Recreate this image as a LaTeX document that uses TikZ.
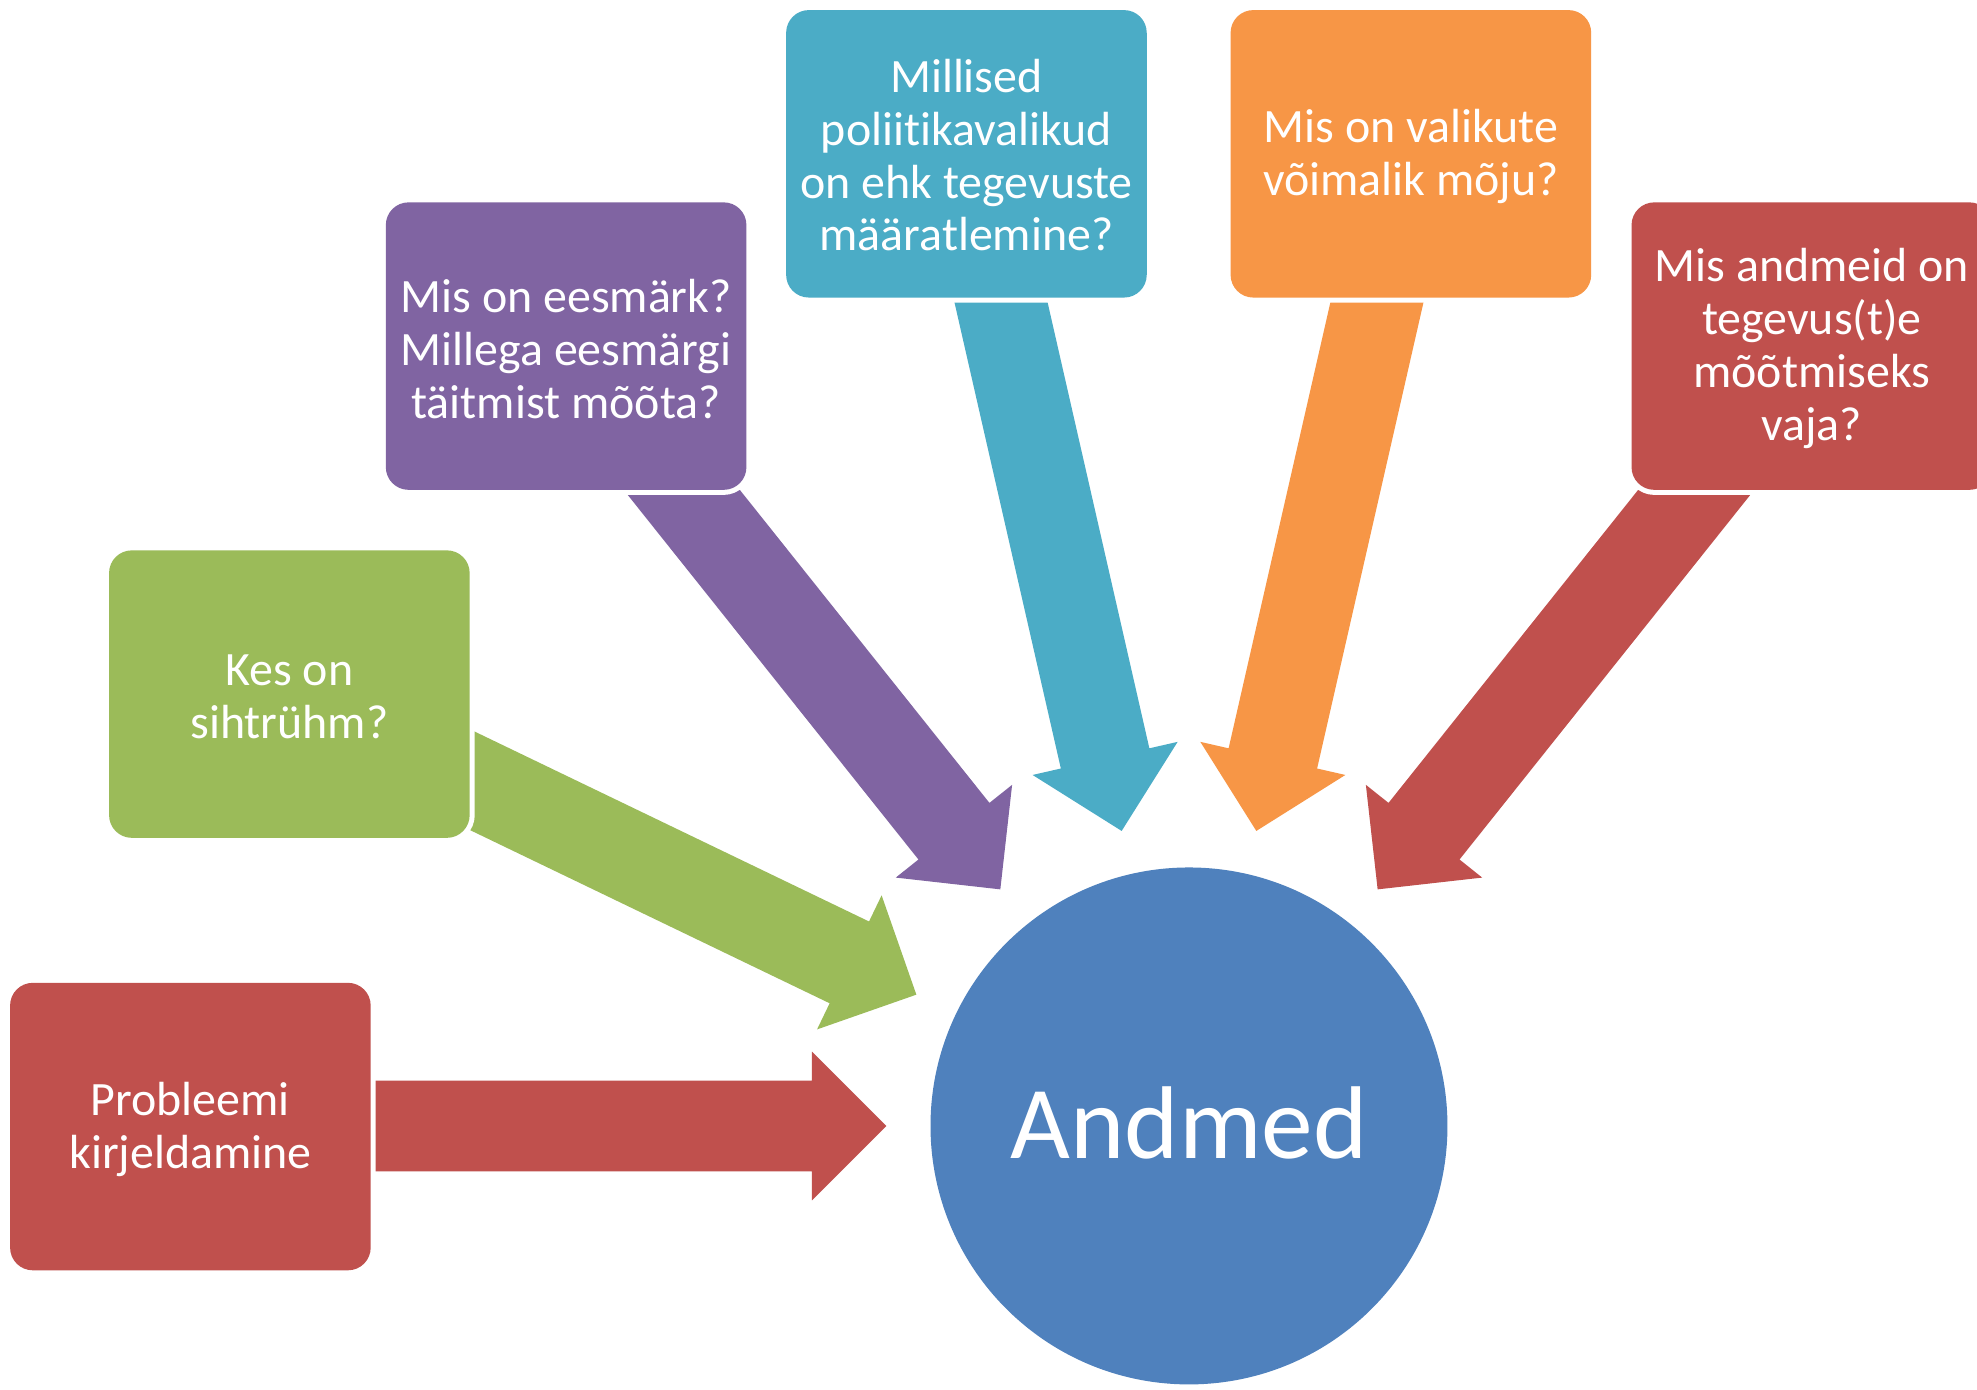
\documentclass[tikz,border=0pt]{standalone}
\usepackage{fontspec}
\setmainfont{Carlito}[Ligatures=NoCommon]
\usetikzlibrary{calc}
\definecolor{cred}{HTML}{C0504D}
\definecolor{cgreen}{HTML}{9BBB59}
\definecolor{cpurple}{HTML}{8064A2}
\definecolor{cteal}{HTML}{4BACC6}
\definecolor{corange}{HTML}{F79646}
\definecolor{cblue}{HTML}{4F81BD}
\tikzset{
  qbox/.style={rectangle, rounded corners=18pt, minimum width=286pt, minimum height=228pt,
    inner sep=0pt, preaction={draw=white, line width=8pt}},
  qtext/.style={align=center, text=white, font=\fontsize{38}{42}\selectfont, inner sep=0pt},
  hub/.style={circle, fill=cblue, minimum size=410pt, inner sep=0pt}
}
\newcommand{\blockarrow}[3]{%
  \begin{scope}[shift={($(hub.center)+(#2+180:240)$)}, rotate=-#2]
    \fill[#1] (0,0) -- (-59,-59) -- (-59,-36) -- (-#3,-36) -- (-#3,36) -- (-59,36) -- (-59,59) -- cycle;
  \end{scope}}
\begin{document}
\begin{tikzpicture}[x=1pt,y=-1pt]
\useasboundingbox (0,0) rectangle (1568,1102);
\clip (0,0) rectangle (1568,1102);
\fill[white] (0,0) rectangle (1568,1102);
\node[hub] (hub) at (943,893) {};
\node[text=white, font=\fontsize{82}{90}\selectfont] (lbl) at (943,891) {Andmed};
% arrows (behind boxes)
\blockarrow{cred}{0}{420}
\blockarrow{cgreen}{25.714}{450}
\blockarrow{cpurple}{51.429}{450}
\blockarrow{cteal}{77.143}{450}
\blockarrow{corange}{102.857}{450}
\blockarrow{cred}{128.571}{450}
% boxes
\node[qbox, fill=cred] (b1) at (151,893.5) {};
\node[qbox, fill=cgreen] (b2) at (229.5,550.5) {};
\node[qbox, fill=cpurple] (b3) at (449,274.5) {};
\node[qbox, fill=cteal] (b4) at (766.5,122) {};
\node[qbox, fill=corange] (b5) at (1119,122) {};
\node[qbox, fill=cred] (b6) at (1437,274.5) {};
\node[qtext] (t1) at ([yshift=-2]b1.center) {Probleemi\\kirjeldamine};
\node[qtext] (t2) at ([yshift=-2]b2.center) {Kes on\\sihtrühm?};
\node[qtext] (t3) at ([yshift=-2]b3.center) {Mis on eesmärk?\\Millega eesmärgi\\täitmist mõõta?};
\node[qtext] (t4) at ([yshift=-1]b4.center) {Millised\\poliitikavalikud\\on ehk tegevuste\\määratlemine?};
\node[qtext] (t5) at ([yshift=-2]b5.center) {Mis on valikute\\võimalik mõju?};
\node[qtext] (t6) at ([yshift=-2]b6.center) {Mis andmeid on\\tegevus(t)e\\mõõtmiseks\\vaja?};
\end{tikzpicture}
\end{document}
